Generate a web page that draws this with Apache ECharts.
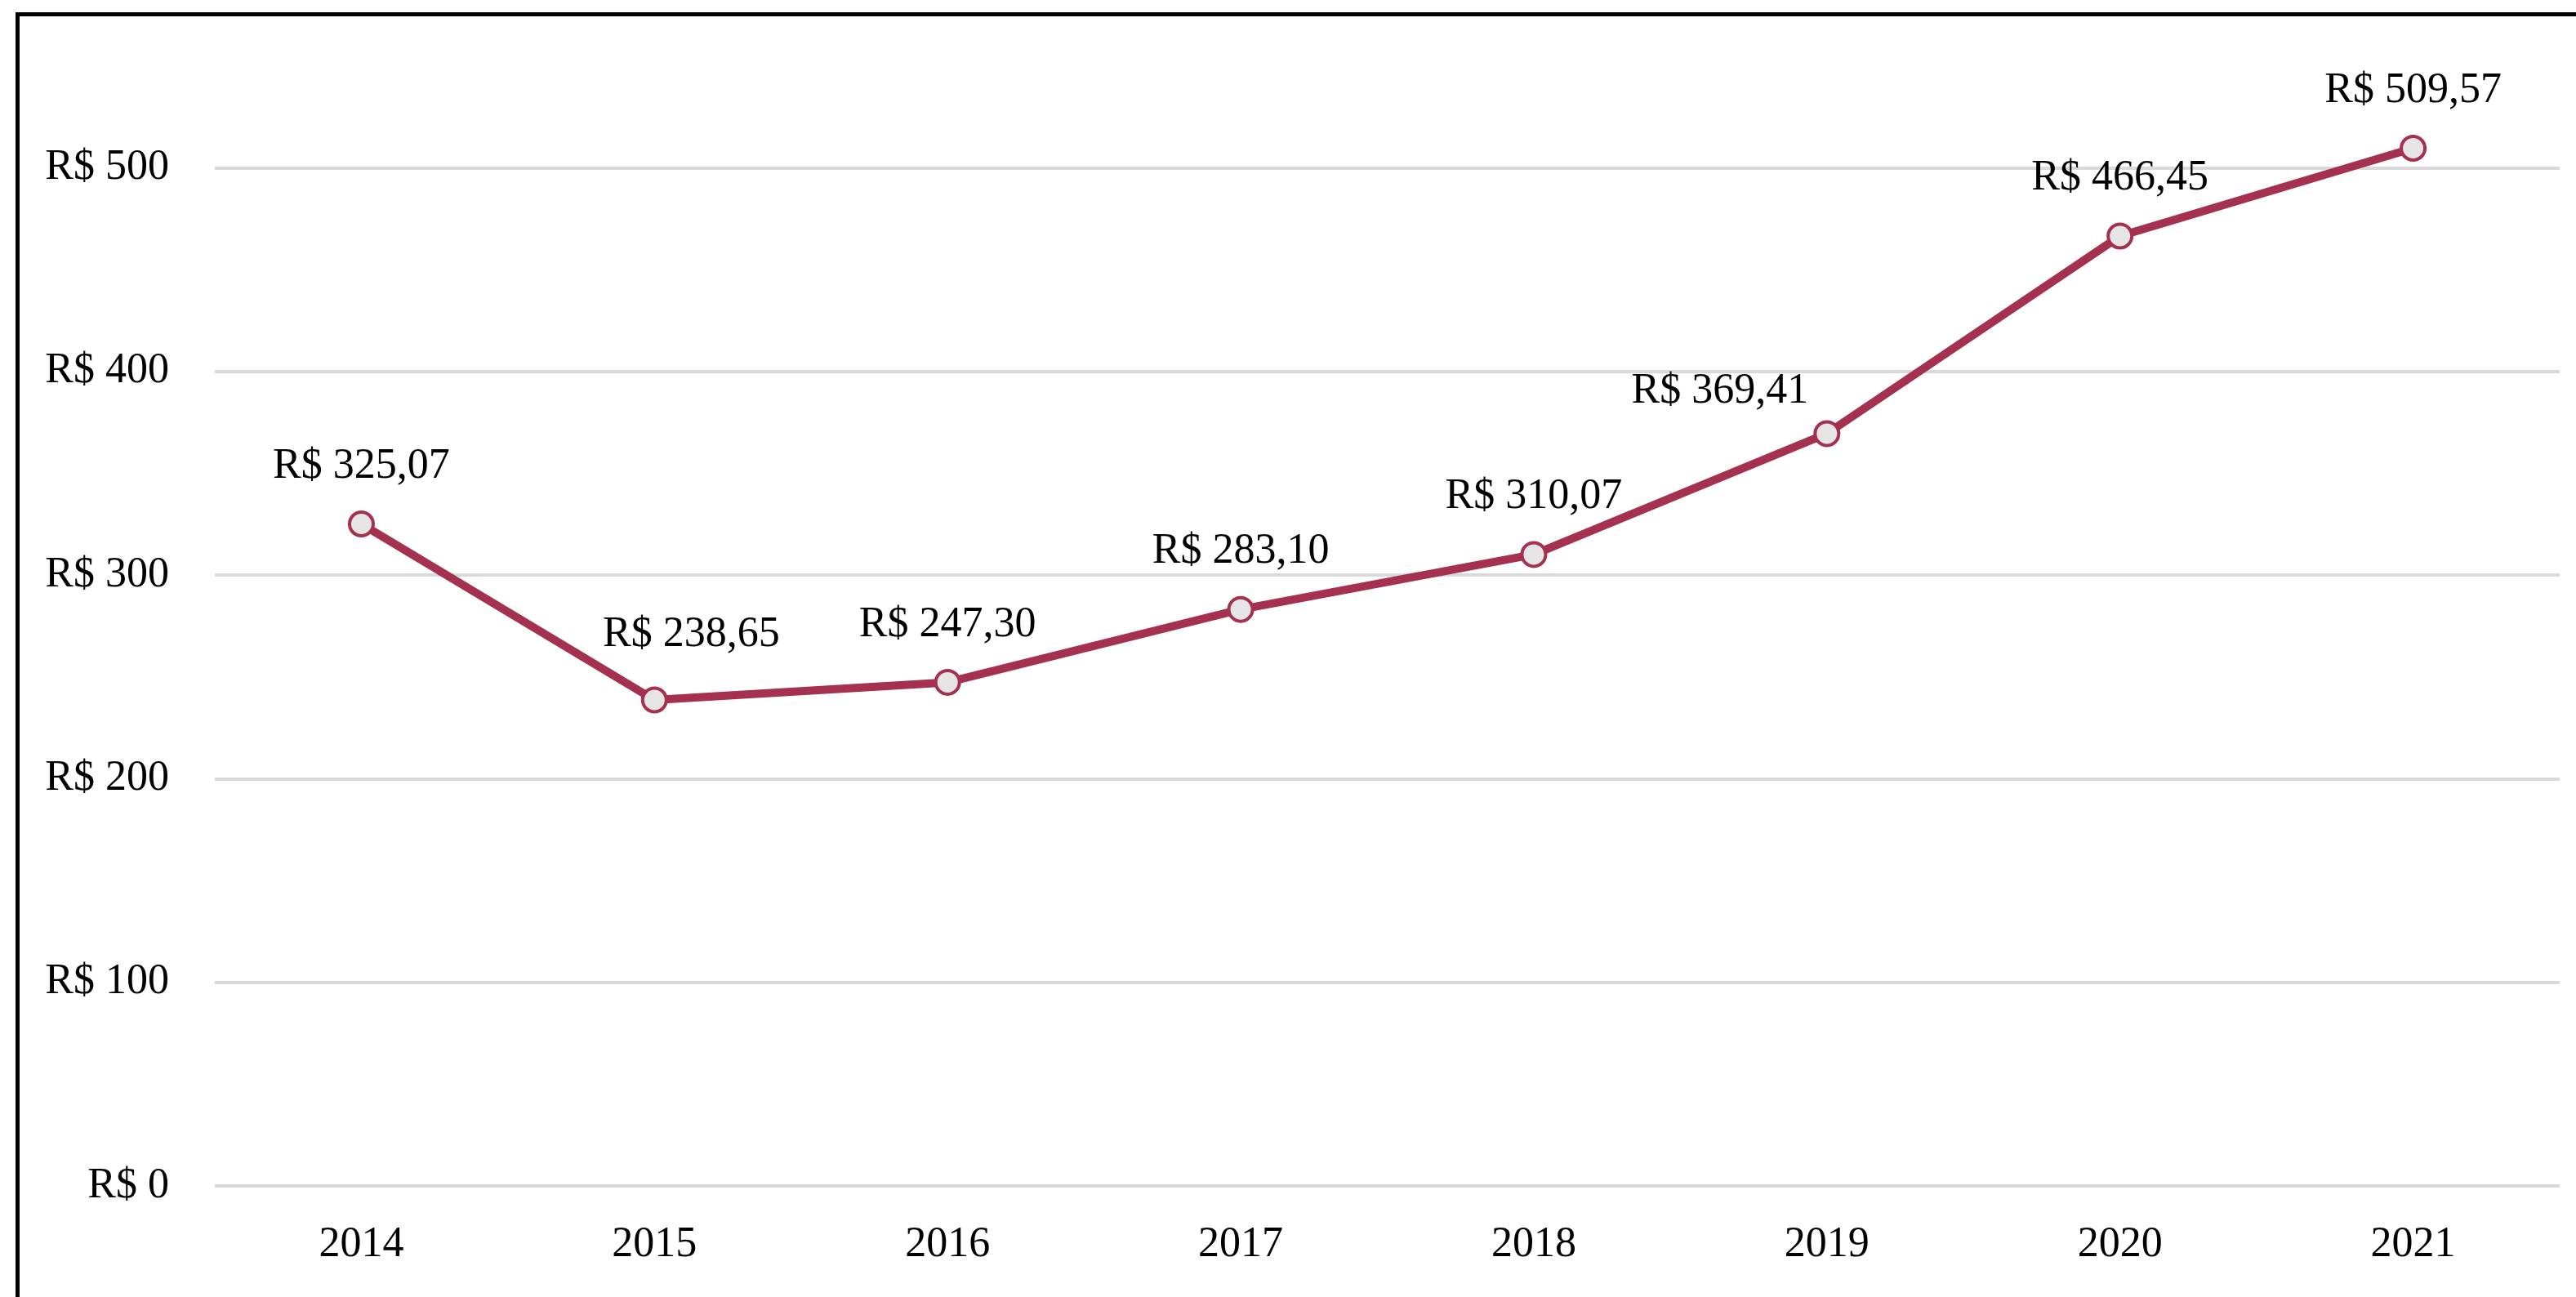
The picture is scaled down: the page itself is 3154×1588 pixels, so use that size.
<!DOCTYPE html>
<html>
<head>
<meta charset="utf-8">
<title>R$ por ano</title>
<script src="https://cdn.jsdelivr.net/npm/echarts@6/dist/echarts.min.js"></script>
<style>
  html, body { margin: 0; padding: 0; background: #fff; }
  #chart { width: 3154px; height: 1588px; }
  #frame {
    position: absolute; left: 19px; top: 15px; right: -10px; bottom: -10px;
    border-left: 5px solid #000; border-top: 5px solid #000;
    pointer-events: none;
  }
</style>
</head>
<body>
<div id="chart"></div>
<div id="frame"></div>
<script>
// data
const years = ['2014', '2015', '2016', '2017', '2018', '2019', '2020', '2021'];
const values = [325.07, 238.65, 247.30, 283.10, 310.07, 369.41, 466.45, 509.57];
const yMin = 0;
const yMax = 600;
const yStep = 100;

// a couple of labels are nudged off the line in the original
const labelNudge = { 1: [45, -9], 5: [-131, 19] };

const lineColor = '#a4314f';
const font = '"Liberation Serif", "Times New Roman", serif';

function brl(v) {
  return 'R$ ' + v.toFixed(2).replace('.', ',');
}

const chart = echarts.init(document.getElementById('chart'));

const option = {
  animation: false,
  backgroundColor: '#fff',
  textStyle: { fontFamily: font },
  grid: {
    left: 263,
    right: 20,
    top: -44,
    bottom: 136,
    containLabel: false,
    outerBoundsMode: 'none'
  },
  xAxis: {
    type: 'category',
    data: years,
    boundaryGap: true,
    axisLine: { show: false },
    axisTick: { show: false },
    axisLabel: { color: '#000', fontSize: 52, fontFamily: font, margin: 46 }
  },
  yAxis: {
    type: 'value',
    min: yMin,
    max: yMax,
    interval: yStep,
    axisLine: { show: false },
    axisTick: { show: false },
    axisLabel: {
      color: '#000',
      fontSize: 52,
      fontFamily: font,
      margin: 56,
      showMaxLabel: false,
      formatter: v => 'R$ ' + v
    },
    splitLine: { lineStyle: { color: '#d9d9d9', width: 4 } }
  },
  series: [
    {
      type: 'line',
      data: values.map((v, i) => ({
        value: v,
        label: labelNudge[i] ? { offset: labelNudge[i] } : undefined
      })),
      lineStyle: { color: lineColor, width: 10 },
      symbol: 'circle',
      symbolSize: 29,
      itemStyle: { color: '#e5e5e5', borderColor: lineColor, borderWidth: 4 },
      label: {
        show: true,
        position: 'top',
        distance: 28,
        color: '#000',
        fontSize: 52,
        fontFamily: font,
        formatter: p => brl(p.value)
      },
      z: 3
    }
  ]
};

chart.setOption(option);
window.addEventListener('resize', () => chart.resize());
</script>
</body>
</html>
